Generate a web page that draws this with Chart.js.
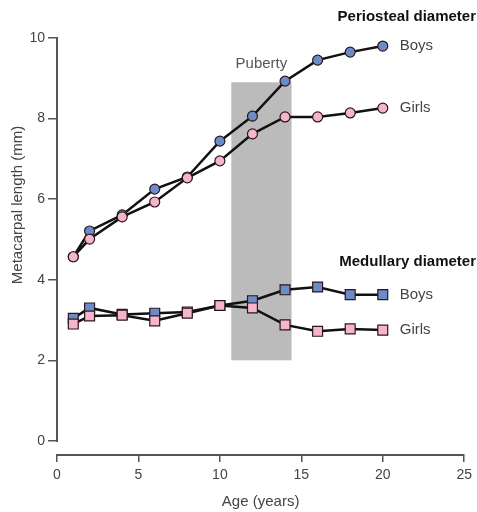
<!DOCTYPE html>
<html>
<head>
<meta charset="utf-8">
<script src="https://cdn.jsdelivr.net/npm/chart.js@4/dist/chart.umd.min.js"></script>
<style>
  body { margin: 0; background: #fff; }
  #wrap { width: 477px; height: 512px; }
</style>
</head>
<body>
<div id="wrap"><canvas id="chart" width="477" height="512"></canvas></div>
<script>
const ages = [1, 2, 4, 6, 8, 10, 12, 14, 16, 18, 20];
const periostealBoys = [4.57, 5.21, 5.61, 6.25, 6.55, 7.44, 8.06, 8.93, 9.45, 9.65, 9.8];
const periostealGirls = [4.57, 5.01, 5.56, 5.93, 6.53, 6.95, 7.62, 8.04, 8.04, 8.14, 8.26];
const medullaryBoys = [3.04, 3.3, 3.14, 3.17, 3.2, 3.36, 3.48, 3.75, 3.82, 3.63, 3.63];
const medullaryGirls = [2.9, 3.1, 3.12, 2.98, 3.17, 3.36, 3.3, 2.88, 2.72, 2.78, 2.75];

const pubertyAges = [10.7, 14.4];
const pubertyLevels = [2, 8.9];

const xTicks = [0, 5, 10, 15, 20, 25];
const yTicks = [0, 2, 4, 6, 8, 10];

const BLUE = '#6b8cc7';
const PINK = '#f6b5c8';
const FONT = '"Liberation Sans", Arial, sans-serif';

Chart.defaults.font.family = FONT;
Chart.defaults.color = '#444';

function points(values) {
  return ages.map((a, i) => ({ x: a, y: values[i] }));
}

function series(label, values, fill, shape) {
  return {
    label: label,
    data: points(values),
    borderColor: '#111',
    borderWidth: 2.5,
    pointStyle: shape,
    pointRadius: shape === 'rect' ? 7 : 5,
    pointBackgroundColor: fill,
    pointBorderColor: '#2a1620',
    pointBorderWidth: 1.2,
    tension: 0
  };
}

// puberty box, axis line and text labels
const extras = {
  id: 'extras',
  beforeDatasetsDraw(chart) {
    const { ctx, scales: { x, y } } = chart;
    const x0 = x.getPixelForValue(pubertyAges[0]);
    const x1 = x.getPixelForValue(pubertyAges[1]);
    const y0 = y.getPixelForValue(pubertyLevels[1]);
    const y1 = y.getPixelForValue(pubertyLevels[0]);
    ctx.save();
    ctx.fillStyle = '#bbbbbb';
    ctx.fillRect(x0, y0, x1 - x0, y1 - y0);
    ctx.fillStyle = '#555';
    ctx.font = '15px ' + FONT;
    ctx.textAlign = 'center';
    ctx.textBaseline = 'middle';
    ctx.fillText('Puberty', (x0 + x1) / 2, y0 - 18);

    // y axis line only runs 0..10
    ctx.strokeStyle = '#555';
    ctx.lineWidth = 2;
    ctx.beginPath();
    ctx.moveTo(x.left, y.getPixelForValue(0) + 1);
    ctx.lineTo(x.left, y.getPixelForValue(10) - 1);
    ctx.stroke();

    // y title
    ctx.translate(18, 205);
    ctx.rotate(-Math.PI / 2);
    ctx.fillStyle = '#444';
    ctx.fillText('Metacarpal length (mm)', 0, 0);
    ctx.restore();
  },
  afterDatasetsDraw(chart) {
    const { ctx } = chart;
    ctx.save();
    ctx.fillStyle = '#444';
    ctx.font = '15px ' + FONT;
    ctx.textAlign = 'left';
    ctx.textBaseline = 'middle';
    chart.data.datasets.forEach((ds, i) => {
      const pts = chart.getDatasetMeta(i).data;
      const last = pts[pts.length - 1];
      ctx.fillText(ds.label, last.x + 17, last.y);
    });
    ctx.fillStyle = '#111';
    ctx.font = 'bold 15px ' + FONT;
    ctx.textAlign = 'right';
    ctx.fillText('Periosteal diameter', 476, 17);
    ctx.fillText('Medullary diameter', 476, 262);
    ctx.restore();
  }
};

new Chart(document.getElementById('chart'), {
  type: 'line',
  data: {
    datasets: [
      series('Girls', periostealGirls, PINK, 'circle'),
      series('Boys', periostealBoys, BLUE, 'circle'),
      series('Girls', medullaryGirls, PINK, 'rect'),
      series('Boys', medullaryBoys, BLUE, 'rect')
    ]
  },
  options: {
    responsive: false,
    animation: false,
    layout: { padding: { top: 38, right: 12, left: 0, bottom: 0 } },
    plugins: { legend: { display: false }, tooltip: { enabled: false } },
    scales: {
      x: {
        type: 'linear',
        min: 0,
        max: 25,
        afterBuildTicks(scale) { scale.ticks = xTicks.map(v => ({ value: v })); },
        afterFit(scale) { scale.height = 57; },
        grid: { drawOnChartArea: false, drawTicks: true, tickLength: 7, color: '#555', lineWidth: 1.5 },
        border: { display: true, color: '#555', width: 2 },
        ticks: { font: { size: 14 }, padding: 5, color: '#444', maxRotation: 0 },
        title: { display: true, text: 'Age (years)', font: { size: 15 }, color: '#444', padding: { top: 0, bottom: 1 } }
      },
      y: {
        min: -0.35,
        max: 10,
        afterBuildTicks(scale) { scale.ticks = yTicks.map(v => ({ value: v })); },
        afterFit(scale) { scale.width = 57; },
        grid: { drawOnChartArea: false, drawTicks: true, tickLength: 9, color: '#555', lineWidth: 1.5 },
        border: { display: false },
        ticks: { font: { size: 14 }, padding: 3, color: '#444' }
      }
    }
  },
  plugins: [extras]
});
</script>
</body>
</html>
